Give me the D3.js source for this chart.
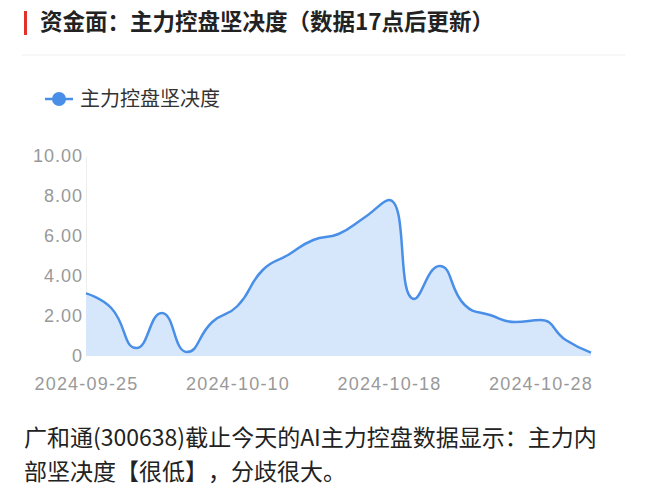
<!DOCTYPE html>
<html>
<head>
<meta charset="utf-8">
<script src="https://cdn.jsdelivr.net/npm/d3@7"></script>
<style>
  body { margin: 0; background: #fff; }
  #wrap { position: relative; width: 652px; height: 500px; }
  svg { display: block; font-family: "Noto Sans CJK SC", "Noto Sans", sans-serif; }
  svg text { text-spacing-trim: space-all; }
  #note {
    position: absolute; left: 24px; top: 419px; width: 620px;
    font-family: "Noto Sans CJK SC", "Noto Sans", sans-serif;
    font-size: 23px; line-height: 34px; color: #222;
    text-spacing-trim: space-all; white-space: nowrap;
  }
</style>
</head>
<body>
<div id="wrap">
<svg id="chart" width="652" height="500"></svg>
<div id="note"></div>
</div>
<script>
// trading days shown on the axis
const dates = ["2024-09-25","2024-09-26","2024-09-27","2024-09-30","2024-10-08","2024-10-09",
  "2024-10-10","2024-10-11","2024-10-14","2024-10-15","2024-10-16","2024-10-17","2024-10-18",
  "2024-10-21","2024-10-22","2024-10-23","2024-10-24","2024-10-25","2024-10-28","2024-10-29","2024-10-30"];
const values = [3.13, 2.4, 0.4, 2.15, 0.2, 1.7, 2.5, 4.3, 5.05, 5.8, 6.1, 6.9, 7.8,
  2.85, 4.5, 2.55, 2.05, 1.7, 1.8, 0.8, 0.17];
const yTicks = [0, 2, 4, 6, 8, 10];
const xLabels = ["2024-09-25", "2024-10-10", "2024-10-18", "2024-10-28"];
const noteLines = ["广和通(300638)截止今天的AI主力控盘数据显示：主力内", "部坚决度【很低】，分歧很大。"];

const blue = "#4a8fe7";
const svg = d3.select("#chart");
const margins = {top: 156, left: 86, right: 61, bottom: 144};
const chartWidth = 652 - margins.left - margins.right;
const chartHeight = 500 - margins.top - margins.bottom;

// smooth line like the original chart: bezier with clamped control points (no overshoot)
function SmoothClamp(context) { this._context = context; }
SmoothClamp.prototype = {
  areaStart() { this._line = 0; },
  areaEnd() { this._line = NaN; },
  lineStart() { this._pts = []; },
  point(x, y) { this._pts.push([+x, +y]); },
  lineEnd() {
    const p = this._pts, ctx = this._context, s = 0.5, n = p.length;
    const clamp = (v, a, b) => Math.max(Math.min(v, Math.max(a, b)), Math.min(a, b));
    if (n) {
      if (this._line) ctx.lineTo(p[0][0], p[0][1]); else ctx.moveTo(p[0][0], p[0][1]);
      let c0x = p[0][0], c0y = p[0][1];
      for (let k = 1; k < n; k++) {
        const [px, py] = p[k - 1], [x, y] = p[k];
        let c1x = x, c1y = y, ncx = x, ncy = y;
        if (k < n - 1) {
          const [nx, ny] = p[k + 1];
          const l0 = Math.hypot(x - px, y - py), l1 = Math.hypot(nx - x, ny - y);
          const r = l1 / (l0 + l1);
          ncx = clamp(x + (nx - px) * s * r, nx, x);
          ncy = clamp(y + (ny - py) * s * r, ny, y);
          c1x = clamp(x - (ncx - x) * l0 / l1, px, x);
          c1y = clamp(y - (ncy - y) * l0 / l1, py, y);
          ncx = x + (x - c1x) * l1 / l0;
          ncy = y + (y - c1y) * l1 / l0;
        }
        ctx.bezierCurveTo(c0x, c0y, c1x, c1y, x, y);
        c0x = ncx; c0y = ncy;
      }
    }
    if (this._line || (this._line !== 0 && n === 1)) ctx.closePath();
    this._line = 1 - this._line;
  }
};
const smoothCurve = context => new SmoothClamp(context);

// header
svg.append("rect").attr("x", 24).attr("y", 11).attr("width", 3).attr("height", 24).attr("fill", "#e0312b");
svg.append("text").attr("x", 40).attr("y", 30)
   .attr("font-size", 22.5).attr("font-weight", "bold").attr("fill", "#222")
   .text("资金面：主力控盘坚决度（数据17点后更新）");
svg.append("line").attr("x1", 22).attr("x2", 625).attr("y1", 55).attr("y2", 55)
   .attr("stroke", "#eeeeee").attr("stroke-width", 1);

// legend
const legend = svg.append("g").attr("transform", "translate(45,99)");
legend.append("line").attr("x1", 0).attr("x2", 28).attr("y1", 0).attr("y2", 0)
      .attr("stroke", blue).attr("stroke-width", 2.5);
legend.append("circle").attr("cx", 14).attr("cy", 0).attr("r", 7).attr("fill", blue);
legend.append("text").attr("x", 35).attr("y", 0).attr("dy", "0.35em")
      .attr("font-size", 20).attr("fill", "#333").text("主力控盘坚决度");

// scales
const x = d3.scalePoint().domain(dates).range([0, chartWidth]);
const y = d3.scaleLinear().domain([0, 10]).range([chartHeight, 0]);

const chartArea = svg.append("g").attr("transform", `translate(${margins.left},${margins.top})`);

// y-axis
const leftAxis = d3.axisLeft(y).tickValues(yTicks).tickSize(0).tickPadding(3)
  .tickFormat(d => d === 0 ? "0" : d3.format(".2f")(d));
const yAxisG = chartArea.append("g").attr("class", "axis").call(leftAxis);
yAxisG.select(".domain").attr("stroke", "#eeeeee");
yAxisG.selectAll("text").attr("font-size", 18).attr("letter-spacing", 1)
  .attr("fill", "#999").attr("font-family", "'Liberation Sans', Arial, sans-serif");

// x-axis labels
const bottomAxis = d3.axisBottom(x).tickValues(xLabels).tickSize(0).tickPadding(21);
const xAxisG = chartArea.append("g").attr("class", "axis")
  .attr("transform", `translate(0,${chartHeight})`).call(bottomAxis);
xAxisG.select(".domain").remove();
xAxisG.selectAll("text").attr("font-size", 18).attr("letter-spacing", 1.2)
  .attr("fill", "#999").attr("font-family", "'Liberation Sans', Arial, sans-serif");

// area + line
const area = d3.area().x((d, i) => x(dates[i])).y0(y(0)).y1(d => y(d)).curve(smoothCurve);
const line = d3.line().x((d, i) => x(dates[i])).y(d => y(d)).curve(smoothCurve);

chartArea.append("path").datum(values).attr("d", area).attr("fill", "#d6e7fb");
chartArea.append("path").datum(values).attr("d", line)
  .attr("fill", "none").attr("stroke", blue).attr("stroke-width", 2.5);

// footnote paragraph
const note = d3.select("#note");
noteLines.forEach((t, i) => {
  if (i) note.append("br");
  note.append("span").text(t);
});
</script>
</body>
</html>
